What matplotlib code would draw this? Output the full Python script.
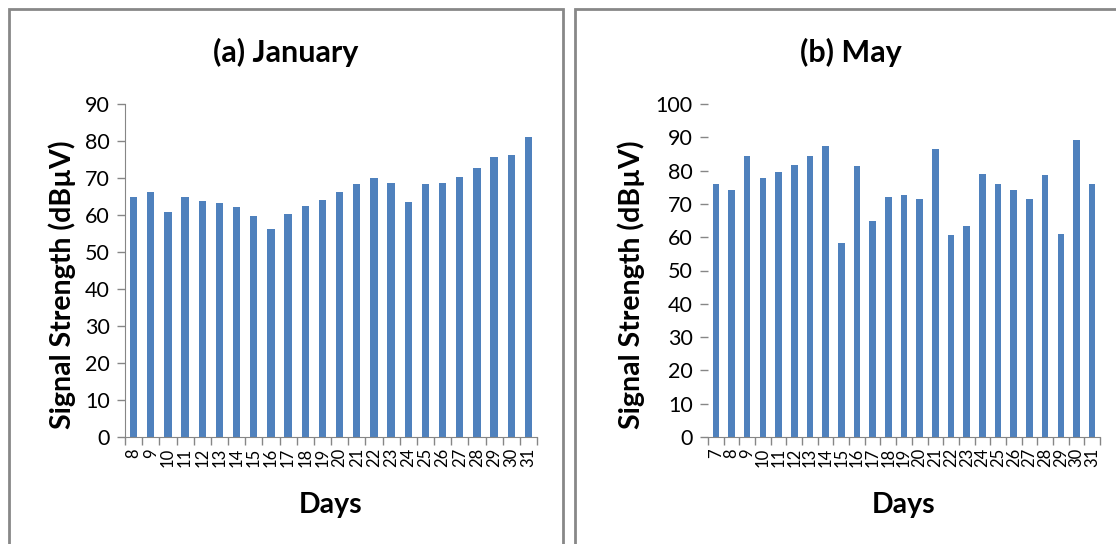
import numpy as np
import matplotlib
matplotlib.use('Agg')
from matplotlib import pyplot as plt
from matplotlib.patches import Rectangle

plt.rcParams['font.family'] = ['Lato', 'DejaVu Sans']

# daily signal strength readings (dBuV)
jan_days = list(range(8, 32))
jan_vals = [64.8, 66.3, 60.9, 64.8, 63.9, 63.2, 62.1, 59.8, 56.3, 60.2,
            62.3, 64.0, 66.1, 68.3, 69.9, 68.6, 63.4, 68.3, 68.6, 70.2,
            72.6, 75.8, 76.1, 81.2]

may_days = list(range(7, 32))
may_vals = [75.9, 74.1, 84.3, 77.7, 79.5, 81.6, 84.3, 87.3, 58.3, 81.3,
            64.9, 72.2, 72.8, 71.6, 86.4, 60.7, 63.3, 78.9, 75.9, 74.1,
            71.6, 78.6, 61.0, 89.2, 75.9]

W, H = 1116, 544
BAR = '#4F81BD'
AXIS = '#868686'
BORDER = '#888888'


def px_rect(x0, y0, x1, y1):
    '''pixel box (top-left origin) -> figure fraction rect'''
    return [x0 / W, 1 - y1 / H, (x1 - x0) / W, (y1 - y0) / H]


def draw_panel(fig, box, days, vals, ymax, show_spine, ylab_x):
    ax = fig.add_axes(px_rect(*box))
    x = np.arange(len(days))
    ax.bar(x, vals, width=0.42, color=BAR, zorder=2)
    ax.set_xlim(-0.5, len(days) - 0.5)
    ax.set_ylim(0, ymax)
    ax.set_yticks(np.arange(0, ymax + 1, 10))

    # labels on category centres, tick marks on category boundaries
    ax.set_xticks(x)
    ax.set_xticklabels([str(d) for d in days], rotation=90, fontsize=12)
    ax.set_xticks(np.arange(-0.5, len(days)), minor=True)
    ax.tick_params(axis='x', which='major', length=0, pad=8)
    ax.tick_params(axis='x', which='minor', length=6, width=1, color=AXIS,
                   direction='out')
    ax.tick_params(axis='y', length=6, width=1, color=AXIS, direction='out',
                   labelsize=15.5, pad=5)

    for s in ['top', 'right']:
        ax.spines[s].set_visible(False)
    ax.spines['bottom'].set_color(AXIS)
    ax.spines['left'].set_color(AXIS)
    ax.spines['left'].set_visible(show_spine)

    ax.set_ylabel('Signal Strength (dB\u00b5V)', fontsize=20.5,
                  fontweight='bold')
    ax.set_xlabel('Days', fontsize=20.5, fontweight='bold')
    ax.yaxis.set_label_coords(ylab_x, 0.456)
    ax.xaxis.set_label_coords(0.5, -0.165)
    return ax


fig = plt.figure(figsize=(W / 100, H / 100), dpi=100)

# chart frames
fig.add_artist(Rectangle((9 / W, -0.05), (563 - 9) / W, 1.05 - 9 / H,
                         transform=fig.transFigure, fill=False,
                         edgecolor=BORDER, linewidth=2))
fig.add_artist(Rectangle((575 / W, -0.05), 0.6, 1.05 - 9 / H,
                         transform=fig.transFigure, fill=False,
                         edgecolor=BORDER, linewidth=2))

draw_panel(fig, (125, 104, 537, 437), jan_days, jan_vals, 90, True, -0.119)
draw_panel(fig, (708, 104, 1100, 437), may_days, may_vals, 100, False, -0.161)

fig.text(286 / W, 1 - 52 / H, '(a) January', ha='center', va='center',
         fontsize=22, fontweight='bold')
fig.text(851 / W, 1 - 52 / H, '(b) May', ha='center', va='center',
         fontsize=22, fontweight='bold')

fig.savefig('out.png', dpi=100)
